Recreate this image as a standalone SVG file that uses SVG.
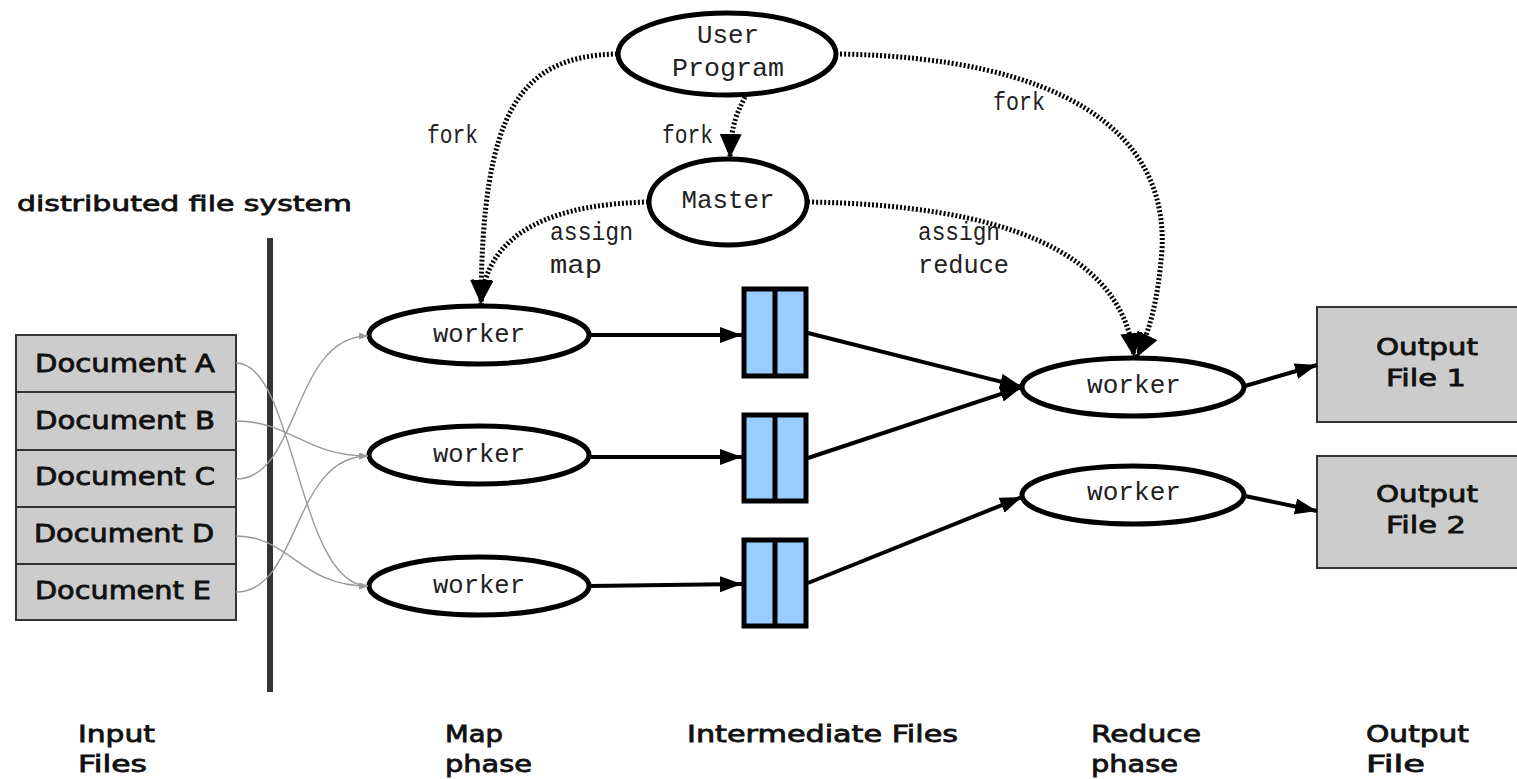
<svg xmlns="http://www.w3.org/2000/svg" width="1517" height="779" viewBox="0 0 1517 779">
<style>
.serif{font-family:"Liberation Mono","DejaVu Sans Mono",monospace;font-size:25px;fill:#222;}
.sans{font-family:"DejaVu Sans","Liberation Sans",sans-serif;fill:#111;stroke:#111;stroke-width:0.8;}
.ell{fill:#fff;stroke:#000;stroke-width:5;}
.doc{fill:#cccccc;stroke:#333;stroke-width:2;}
.imf{fill:#99ccff;stroke:#000;stroke-width:5;}
.solid{fill:none;stroke:#000;stroke-width:4;marker-end:url(#ah);}
.dot{fill:none;stroke:#000;stroke-width:5;stroke-dasharray:2 2;marker-end:url(#ahd);}
.gray{fill:none;stroke:#999;stroke-width:1.4;marker-end:url(#ahg);}
</style>
<defs>
<marker id="ah" markerUnits="userSpaceOnUse" markerWidth="24" markerHeight="18" refX="22" refY="8" orient="auto"><path d="M0,0 L22,8 L0,16 z" fill="#000"/></marker>
<marker id="ahd" markerUnits="userSpaceOnUse" markerWidth="26" markerHeight="24" refX="24" refY="11" orient="auto"><path d="M0,0 L24,11 L0,22 z" fill="#000"/></marker>
<marker id="ahg" markerUnits="userSpaceOnUse" markerWidth="10" markerHeight="8" refX="9" refY="3.5" orient="auto"><path d="M0,0 L9,3.5 L0,7 z" fill="#999"/></marker>
</defs>
<rect width="1517" height="779" fill="#fff"/>

<text class="sans" x="17" y="211" font-size="22" textLength="335" lengthAdjust="spacingAndGlyphs">distributed file system</text>
<rect id="dfs-bar" x="267" y="238" width="6" height="454" fill="#333"/>

<g id="input-files">
<rect class="doc" x="16" y="335" width="220" height="57"/>
<rect class="doc" x="16" y="392" width="220" height="58"/>
<rect class="doc" x="16" y="450" width="220" height="57"/>
<rect class="doc" x="16" y="507" width="220" height="57"/>
<rect class="doc" x="16" y="564" width="220" height="56"/>
<text class="sans" x="35" y="372" font-size="24" textLength="180" lengthAdjust="spacingAndGlyphs">Document A</text>
<text class="sans" x="35" y="429" font-size="24" textLength="180" lengthAdjust="spacingAndGlyphs">Document B</text>
<text class="sans" x="35" y="485" font-size="24" textLength="180" lengthAdjust="spacingAndGlyphs">Document C</text>
<text class="sans" x="34" y="542" font-size="24" textLength="180" lengthAdjust="spacingAndGlyphs">Document D</text>
<text class="sans" x="35" y="599" font-size="24" textLength="176" lengthAdjust="spacingAndGlyphs">Document E</text>
</g>

<g id="user-program">
<ellipse class="ell" cx="727" cy="54" rx="109" ry="41"/>
<text class="serif" x="728" y="43" text-anchor="middle" textLength="62" lengthAdjust="spacingAndGlyphs">User</text>
<text class="serif" x="728" y="76" text-anchor="middle" textLength="112" lengthAdjust="spacingAndGlyphs">Program</text>
</g>
<g id="master">
<ellipse class="ell" cx="728" cy="202" rx="79" ry="43"/>
<text class="serif" x="728" y="208" text-anchor="middle" textLength="93" lengthAdjust="spacingAndGlyphs">Master</text>
</g>

<g id="map-worker-1">
<ellipse class="ell" cx="479" cy="335" rx="110" ry="29"/>
<text class="serif" x="479" y="342" text-anchor="middle" textLength="92" lengthAdjust="spacingAndGlyphs">worker</text>
</g>
<g id="map-worker-2">
<ellipse class="ell" cx="479" cy="455" rx="110" ry="29"/>
<text class="serif" x="479" y="462" text-anchor="middle" textLength="92" lengthAdjust="spacingAndGlyphs">worker</text>
</g>
<g id="map-worker-3">
<ellipse class="ell" cx="479" cy="586" rx="110" ry="29"/>
<text class="serif" x="479" y="593" text-anchor="middle" textLength="92" lengthAdjust="spacingAndGlyphs">worker</text>
</g>

<g id="intermediate-1">
<rect class="imf" x="744" y="289" width="62" height="87"/>
<line x1="775" y1="289" x2="775" y2="376" stroke="#000" stroke-width="5"/>
</g>
<g id="intermediate-2">
<rect class="imf" x="744" y="415" width="62" height="86"/>
<line x1="775" y1="415" x2="775" y2="501" stroke="#000" stroke-width="5"/>
</g>
<g id="intermediate-3">
<rect class="imf" x="744" y="540" width="62" height="86"/>
<line x1="775" y1="540" x2="775" y2="626" stroke="#000" stroke-width="5"/>
</g>

<g id="reduce-worker-1">
<ellipse class="ell" cx="1133" cy="387" rx="111" ry="29"/>
<text class="serif" x="1134" y="393" text-anchor="middle" textLength="94" lengthAdjust="spacingAndGlyphs">worker</text>
</g>
<g id="reduce-worker-2">
<ellipse class="ell" cx="1133" cy="495" rx="111" ry="29"/>
<text class="serif" x="1134" y="500" text-anchor="middle" textLength="94" lengthAdjust="spacingAndGlyphs">worker</text>
</g>

<g id="output-file-1">
<rect class="doc" x="1317" y="307" width="210" height="115"/>
<text class="sans" x="1427" y="355" font-size="23" text-anchor="middle" textLength="102" lengthAdjust="spacingAndGlyphs">Output</text>
<text class="sans" x="1426" y="386" font-size="23" text-anchor="middle" textLength="80" lengthAdjust="spacingAndGlyphs">File 1</text>
</g>
<g id="output-file-2">
<rect class="doc" x="1317" y="456" width="210" height="112"/>
<text class="sans" x="1427" y="502" font-size="23" text-anchor="middle" textLength="102" lengthAdjust="spacingAndGlyphs">Output</text>
<text class="sans" x="1426" y="533" font-size="23" text-anchor="middle" textLength="80" lengthAdjust="spacingAndGlyphs">File 2</text>
</g>

<g id="connectors">
<path class="gray" d="M236,363 C295,363 298,586 368,586"/>
<path class="gray" d="M236,421 C290,421 305,456 368,456"/>
<path class="gray" d="M236,479 C300,479 292,336 368,336"/>
<path class="gray" d="M236,536 C290,536 300,586 368,586"/>
<path class="gray" d="M236,592 C300,592 292,456 368,456"/>

<path class="solid" d="M590,335 L742,335"/>
<path class="solid" d="M590,457 L742,457"/>
<path class="solid" d="M590,586 L742,584"/>
<path class="solid" d="M808,333 L1022,387"/>
<path class="solid" d="M808,458 L1022,387"/>
<path class="solid" d="M808,583 L1022,497"/>
<path class="solid" d="M1245,386 L1317,365"/>
<path class="solid" d="M1245,496 L1317,511"/>

<path class="dot" d="M617,54 C520,56 482,110 481,304"/>
<path class="dot" d="M648,202 C560,204 486,228 481,304"/>
<path class="dot" d="M745,97 C738,112 731,122 730,158"/>
<path class="dot" d="M840,54 C1060,58 1168,130 1162,250 C1158,300 1150,330 1137,357"/>
<path class="dot" d="M808,202 C1000,205 1122,250 1134,357"/>

<text class="serif" x="427" y="143" textLength="51" lengthAdjust="spacingAndGlyphs">fork</text>
<text class="serif" x="662" y="143" textLength="51" lengthAdjust="spacingAndGlyphs">fork</text>
<text class="serif" x="993" y="110" textLength="52" lengthAdjust="spacingAndGlyphs">fork</text>
<text class="serif" x="550" y="240" textLength="83" lengthAdjust="spacingAndGlyphs">assign</text>
<text class="serif" x="550" y="273" textLength="52" lengthAdjust="spacingAndGlyphs">map</text>
<text class="serif" x="918" y="240" textLength="82" lengthAdjust="spacingAndGlyphs">assign</text>
<text class="serif" x="918" y="273" textLength="91" lengthAdjust="spacingAndGlyphs">reduce</text>
</g>

<g id="phase-labels">
<text class="sans" x="78" y="742" font-size="23" textLength="77" lengthAdjust="spacingAndGlyphs">Input</text>
<text class="sans" x="78" y="772" font-size="23" textLength="69" lengthAdjust="spacingAndGlyphs">Files</text>
<text class="sans" x="445" y="742" font-size="23" textLength="58" lengthAdjust="spacingAndGlyphs">Map</text>
<text class="sans" x="445" y="772" font-size="23" textLength="87" lengthAdjust="spacingAndGlyphs">phase</text>
<text class="sans" x="687" y="742" font-size="23" textLength="271" lengthAdjust="spacingAndGlyphs">Intermediate Files</text>
<text class="sans" x="1091" y="742" font-size="23" textLength="110" lengthAdjust="spacingAndGlyphs">Reduce</text>
<text class="sans" x="1091" y="772" font-size="23" textLength="87" lengthAdjust="spacingAndGlyphs">phase</text>
<text class="sans" x="1366" y="742" font-size="23" textLength="103" lengthAdjust="spacingAndGlyphs">Output</text>
<text class="sans" x="1366" y="772" font-size="23" textLength="59" lengthAdjust="spacingAndGlyphs">File</text>
</g>
</svg>
